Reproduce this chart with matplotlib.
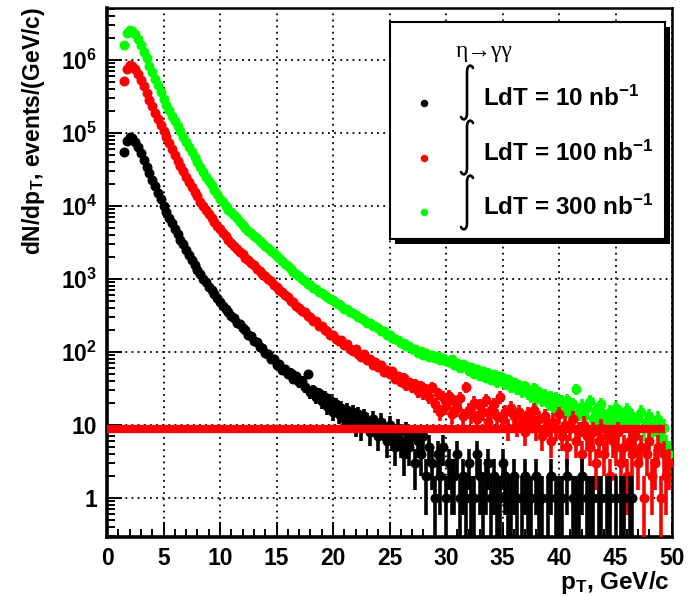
import numpy as np
import matplotlib
matplotlib.use('Agg')
import matplotlib.pyplot as plt
from matplotlib.patches import Rectangle, PathPatch
from matplotlib.path import Path
from matplotlib.ticker import LogLocator, NullFormatter, FixedLocator

plt.rcParams['font.family'] = ['Liberation Sans', 'DejaVu Sans']
plt.rcParams['font.weight'] = 'bold'
plt.rcParams['mathtext.fontset'] = 'custom'
plt.rcParams['mathtext.rm'] = 'Liberation Sans:bold'
plt.rcParams['mathtext.bf'] = 'Liberation Sans:bold'
plt.rcParams['mathtext.it'] = 'Liberation Sans:bold'
plt.rcParams['mathtext.default'] = 'rm'

# ---------------- data ----------------
# bin centres: 1.5, 1.75, ..., 49.75 GeV/c
pt_first = 1.5
pt_step = 0.25
n_bins = 194
pt_bins = pt_first + pt_step * np.arange(n_bins)

counts_10nb = [
    54000, 77600,
    89100, 85300, 75700, 64800,
    52300, 42900, 34600, 28300,
    22800, 18700, 15000, 12400,
    10100, 8350, 6890, 5780,
    4770, 4090, 3450, 2960,
    2500, 2150, 1810, 1560,
    1340, 1180, 1010, 895,
    770, 697, 612, 553,
    482, 431, 385, 352,
    311, 293, 252, 238,
    210, 199, 170, 163,
    141, 136, 117, 114,
    96, 94, 80, 79,
    66, 68, 57, 59,
    49, 52, 43, 46,
    38, 40, 33, 50,
    28, 30, 24, 27,
    21, 24, 18, 22,
    15, 19, 14, 17,
    12, 16, 11, 15,
    10, 14, 9, 13,
    11, 8, 12, 10,
    7, 11, 9, 6,
    10, 7, 5, 9,
    6, 4, 8, 5,
    7, 3, 6, 4,
    7, 2, 5, 3,
    1, 4, 2, 5,
    1, 3, 2, 2,
    4, 1, 2, 1,
    3, 1, 1, 4,
    2, 1, 2, 3,
    1, 2, 1, 1,
    3, 2, 1, 1,
    2, 1, 0, 1,
    2, 1, 1, 0,
    2, 1, 1, 0,
    1, 2, 0, 1,
    1, 1, 0, 2,
    0, 1, 1, 1,
    2, 0, 1, 1,
    1, 0, 1, 1,
    0, 1, 1, 0,
    1, 0, 1, 1,
    0, 1, 1, 0,
    0, 0, 0, 0,
    0, 0, 0, 0,
    0, 0, 0, 0,
]

counts_100nb = [
    513000, 741000,
    851000, 830000, 762000, 644000,
    538000, 436000, 356000, 287000,
    235000, 190000, 156000, 128000,
    107000, 87400, 72100, 60500,
    49900, 41800, 35300, 29600,
    25200, 21300, 18300, 15400,
    13600, 11400, 10100, 8650,
    7630, 6720, 6080, 5330,
    4810, 4240, 3830, 3440,
    3110, 2800, 2590, 2320,
    2160, 1930, 1800, 1640,
    1530, 1370, 1280, 1150,
    1080, 990, 925, 820,
    770, 700, 655, 595,
    560, 505, 475, 430,
    405, 365, 352, 308,
    300, 268, 262, 228,
    224, 198, 195, 172,
    172, 151, 140, 146,
    124, 127, 109, 104,
    110, 92, 86, 93,
    77, 79, 66, 72,
    61, 65, 53, 57,
    50, 55, 43, 46,
    39, 44, 35, 38,
    33, 36, 29, 34,
    27, 31, 24, 33,
    19, 27, 15, 24,
    18, 25, 14, 21,
    17, 23, 13, 33,
    16, 14, 20, 12,
    18, 15, 22, 11,
    16, 19, 13, 24,
    12, 15, 9, 17,
    13, 10, 15, 12,
    8, 14, 11, 16,
    9, 12, 7, 13,
    10, 6, 11, 9,
    14, 7, 10, 5,
    9, 12, 6, 8,
    4, 10, 7, 5,
    8, 3, 6, 9,
    4, 7, 2, 6,
    5, 8, 3, 5,
    2, 6, 4, 7,
    3, 5, 1, 4,
    6, 2, 3, 5,
    1, 4, 2, 3,
]

counts_300nb = [
    1620000, 2340000,
    2570000, 2510000, 2290000, 1950000,
    1580000, 1290000, 1050000, 832000,
    676000, 550000, 447000, 363000,
    295000, 245000, 204000, 170000,
    145000, 123000, 105000, 89100,
    75900, 64600, 55000, 46800,
    39800, 33900, 28800, 25100,
    21900, 19100, 16600, 14500,
    12600, 11200, 10000, 8910,
    8130, 7410, 6760, 6030,
    5500, 5010, 4570, 4270,
    3890, 3630, 3310, 3090,
    2820, 2630, 2400, 2240,
    2040, 1910, 1740, 1620,
    1480, 1380, 1260, 1170,
    1080, 990, 940, 862,
    821, 752, 730, 668,
    640, 596, 570, 529,
    512, 470, 452, 431,
    392, 386, 349, 344,
    322, 297, 293, 272,
    250, 252, 229, 224,
    213, 190, 192, 170,
    172, 153, 150, 146,
    131, 133, 119, 121,
    108, 111, 97, 103,
    90, 95, 86, 91,
    82, 87, 77, 83,
    76, 73, 79, 66,
    71, 60, 68, 64,
    55, 61, 50, 58,
    47, 55, 44, 52,
    41, 49, 38, 46,
    44, 36, 42, 33,
    38, 31, 35, 29,
    34, 27, 25, 32,
    23, 28, 22, 26,
    20, 24, 18, 23,
    17, 21, 16, 22,
    14, 19, 31, 15,
    18, 13, 17, 21,
    12, 16, 11, 19,
    13, 10, 15, 12,
    17, 9, 14, 11,
    16, 10, 13, 8,
    12, 15, 9, 11,
    13, 8, 10, 12,
    7, 9, 5, 4,
]

threshold_value = 8.7
threshold_xmax = 49.4

series_labels = ['LdT = 10 nb$^{-1}$', 'LdT = 100 nb$^{-1}$', 'LdT = 300 nb$^{-1}$']
series_colors = ['#000000', '#ff0000', '#00ff00']

ytick_values = [1, 10, 1e2, 1e3, 1e4, 1e5, 1e6]
ytick_labels = ['1', '10', r'$10^{2}$', r'$10^{3}$', r'$10^{4}$', r'$10^{5}$', r'$10^{6}$']
xtick_values = list(range(0, 51, 5))

# ---------------- figure ----------------
W, H = 692, 597
fig = plt.figure(figsize=(W / 100, H / 100), dpi=100)
ax = fig.add_axes([107 / W, 1 - 537 / H, 565 / W, 529 / H])
ax.set_yscale('log')
ax.set_xlim(0, 50)
ax.set_ylim(0.29, 5.15e6)

MS = 7.2


def draw(y, color, z):
    y = np.asarray(y, dtype=float)
    m = y > 0
    x = pt_bins[m]
    yy = y[m]
    e = np.sqrt(yy)
    lo = np.where(yy - e > 0, e, yy * 0.999)
    ax.errorbar(x, yy, yerr=[lo, e], fmt='o', color=color, ms=MS, mew=0,
                elinewidth=2.6, capsize=0, zorder=z)


draw(counts_300nb, series_colors[2], 3)
draw(counts_100nb, series_colors[1], 4)
draw(counts_10nb, series_colors[0], 5)

ax.hlines(threshold_value, 0, threshold_xmax, color='#ff0000', lw=6.0, zorder=6)

# ticks / grid
ax.xaxis.set_major_locator(FixedLocator(xtick_values))
ax.xaxis.set_minor_locator(FixedLocator(list(range(0, 51))))
ax.set_xticklabels([str(v) for v in xtick_values])
ax.yaxis.set_major_locator(FixedLocator(ytick_values))
ax.set_yticklabels(ytick_labels)
ax.yaxis.set_minor_locator(LogLocator(base=10, subs=np.arange(2, 10), numticks=50))
ax.yaxis.set_minor_formatter(NullFormatter())
ax.tick_params(which='both', direction='in', top=False, right=False, width=1.4)
ax.tick_params(which='major', length=11, labelsize=16.5)
ax.tick_params(axis='y', which='major', pad=7)
ax.tick_params(axis='x', which='major', pad=7)
ax.tick_params(which='minor', length=5.5)
ax.grid(True, which='major', color='black', linestyle=(0, (1, 2.4)), linewidth=1.3)
ax.set_axisbelow(True)
for s in ['left', 'bottom']:
    ax.spines[s].set_linewidth(2.6)
for s in ['top', 'right']:
    ax.spines[s].set_linewidth(1.8)

# axis titles
fig.text(34 / W, 1 - 7 / H, 'dN/dp$_{T}$, events/(GeV/c)', rotation=90,
         ha='center', va='top', fontsize=16.5, fontweight='bold')
fig.text(670 / W, 1 - 589 / H, 'p$_{T}$, GeV/c', ha='right', va='baseline',
         fontsize=17.5, fontweight='bold')

# ---------------- legend (pixel overlay) ----------------
ov = fig.add_axes([0, 0, 1, 1], zorder=10)
ov.set_xlim(0, W)
ov.set_ylim(H, 0)
ov.axis('off')
ov.add_patch(Rectangle((395, 27), 275, 217, fc='black', ec='none'))
ov.add_patch(Rectangle((390, 22), 275, 217, fc='white', ec='black', lw=1.5))
ov.text(456, 52, 'η→γγ', family=['Liberation Serif', 'DejaVu Serif'],
        fontweight='normal', fontsize=17, ha='left', va='center')

# three stacked integral signs
for yt, yb in [(65, 120), (120, 175), (175, 230)]:
    verts = [(473, yt + 3), (471, yt - 1), (467, yt), (467, yt + 7),
             (467, yb - 7), (467, yb), (463, yb + 1), (461, yb - 3)]
    codes = [Path.MOVETO, Path.CURVE4, Path.CURVE4, Path.CURVE4,
             Path.LINETO, Path.CURVE4, Path.CURVE4, Path.CURVE4]
    ov.add_patch(PathPatch(Path(verts, codes), fc='none', ec='black', lw=1.9,
                           capstyle='round'))

for lab, col, ym, yb in zip(series_labels, series_colors, [103, 158, 212], [106, 161, 215]):
    ov.plot([424], [ym], 'o', color=col, ms=5.4, mew=0)
    ov.text(483, yb, lab, fontsize=17.5, fontweight='bold', ha='left', va='baseline')

fig.savefig('out.png', dpi=100)
